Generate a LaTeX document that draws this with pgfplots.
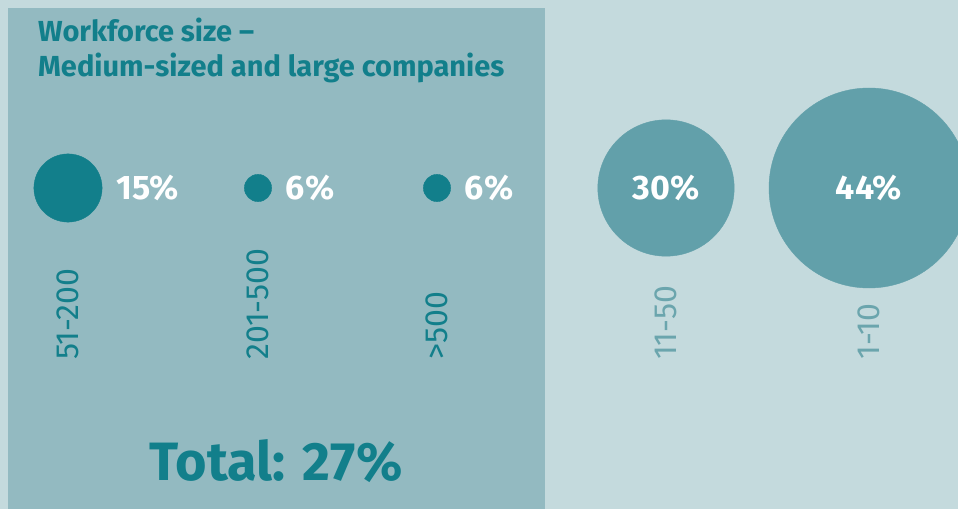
\documentclass[border=0pt]{standalone}
\usepackage{pgfplots}
\pgfplotsset{compat=1.18}
\usepackage{pgfplotstable}
\usepackage{fontspec}
\setmainfont{Fira Sans}
\definecolor{darkteal}{HTML}{127F8B}
\definecolor{panel}{HTML}{93BAC1}
\definecolor{bglight}{HTML}{C4DADD}
\definecolor{lightbub}{HTML}{62A0AA}
\definecolor{lightlab}{HTML}{6BA5AD}
\pgfplotstableread{
x y v c
68 321 15 0
258 321 6 0
437 321 6 0
}\med
\pgfplotstableread{
x y v c
666 321 30 1
869 321 44 1
}\sml
\begin{document}
\begin{tikzpicture}
\begin{axis}[
  width=958pt, height=509pt, scale only axis,
  xmin=0, xmax=958, ymin=0, ymax=509,
  axis background/.style={fill=bglight},
  axis line style={draw=none},
  axis on top,
  ytick=\empty,
  xtick={68,258,437,666,869},
  xticklabels={{\color{darkteal}51-200},{\color{darkteal}201-500},{\color{darkteal}>500},{\color{lightlab}11-50},{\color{lightlab}1-10}},
  xticklabel style={yshift=149pt, rotate=90, anchor=west, inner sep=0pt, font=\fontsize{32}{32}\selectfont},
  major tick length=0pt,
  colormap={two}{color(0)=(darkteal) color(1)=(lightbub)},
  point meta min=0, point meta max=1,
  clip=false,
  /pgf/number format/assume math mode=true,
]
\fill[panel] (axis cs:8,0) rectangle (axis cs:545,501);
% bubbles (radius proportional to the share)
\addplot[scatter, only marks, mark=*,
  point meta=\thisrow{c},
  scatter/use mapped color={draw=mapped color, fill=mapped color},
  visualization depends on={100*\thisrow{v}/44 \as \perpointmarksize},
  scatter/@pre marker code/.append style={/tikz/mark size=\perpointmarksize},
] table[x=x, y=y] {\med};
\addplot[scatter, only marks, mark=*,
  point meta=\thisrow{c},
  scatter/use mapped color={draw=mapped color, fill=mapped color},
  visualization depends on={100*\thisrow{v}/44 \as \perpointmarksize},
  scatter/@pre marker code/.append style={/tikz/mark size=\perpointmarksize},
] table[x=x, y=y] {\sml};
% value labels
\addplot[only marks, mark=none,
  point meta=\thisrow{v},
  visualization depends on={100*\thisrow{v}/44 \as \rad},
  nodes near coords={\pgfmathprintnumber{\pgfplotspointmeta}\%},
  nodes near coords style={inner sep=0pt, text=white, font=\bfseries\fontsize{34}{34}\selectfont,
    anchor=west, xshift={\rad pt+14pt}},
] table[x=x, y=y] {\med};
\addplot[only marks, mark=none,
  point meta=\thisrow{v},
  nodes near coords={\pgfmathprintnumber{\pgfplotspointmeta}\%},
  nodes near coords style={inner sep=0pt, text=white, font=\bfseries\fontsize{34}{34}\selectfont,
    anchor=center},
] table[x=x, y=y] {\sml};
\node[anchor=base west, inner sep=0pt, text=darkteal, font=\bfseries\fontsize{29}{29}\selectfont] at (axis cs:38,467) {Workforce size –};
\node[anchor=base west, inner sep=0pt, text=darkteal, font=\bfseries\fontsize{29}{29}\selectfont] at (axis cs:38,432) {Medium-sized and large companies};
\node[anchor=base, inner sep=0pt, text=darkteal, font=\bfseries\fontsize{54}{54}\selectfont] at (axis cs:276,29) {Total: 27\%};
\end{axis}
\pgfresetboundingbox
\useasboundingbox (0,0) rectangle (958pt,509pt);
\end{tikzpicture}
\end{document}
